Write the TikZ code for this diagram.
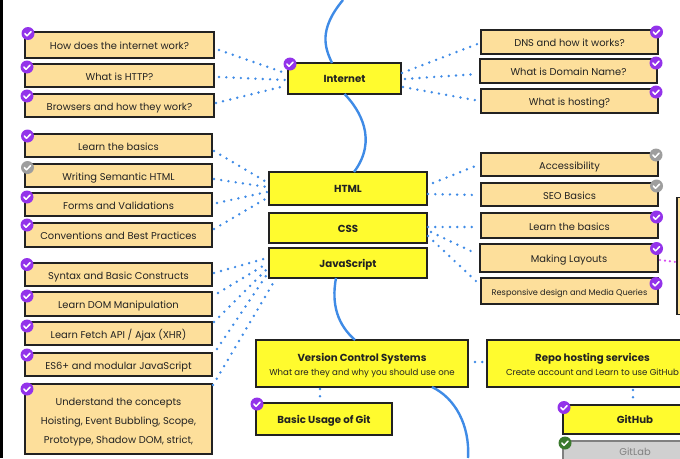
\documentclass[tikz,border=0pt]{standalone}
\usepackage{fontspec}
\setmainfont{Poppins}
\definecolor{itemfill}{HTML}{FDDF9B}
\definecolor{topicfill}{HTML}{FFFB2E}
\definecolor{altfill}{HTML}{D0D0D0}
\definecolor{linkblue}{HTML}{3F8BE6}
\definecolor{linkpink}{HTML}{D64BF0}
\definecolor{inkdark}{HTML}{222222}
\definecolor{donepurple}{HTML}{9333EA}
\definecolor{skipgrey}{HTML}{9E9E9E}
\definecolor{altgreen}{HTML}{3B7A2E}
\newcommand{\topictitle}[1]{{\fontsize{10.2}{15}\selectfont\bfseries #1}}
\begin{document}
\begin{tikzpicture}[x=1pt,y=-1pt]
        \tikzstyle{item}=[draw=inkdark,line width=1.3pt,fill=itemfill,text=inkdark,inner sep=0pt,outer sep=0pt,align=center,font=\fontsize{9.9}{19}\selectfont,execute at begin node={\rule[-3pt]{0pt}{15.5pt}}]
        \tikzstyle{topic}=[draw=inkdark,line width=1.3pt,fill=topicfill,text=inkdark,inner sep=0pt,outer sep=0pt,align=center,font=\fontsize{8.6}{15}\selectfont,execute at begin node={\rule[-3pt]{0pt}{14pt}}]
        \tikzstyle{alt}=[draw=gray,line width=1.3pt,fill=altfill,text=gray,inner sep=0pt,outer sep=0pt,font=\fontsize{9.9}{15}\selectfont]
        \tikzstyle{link}=[linkblue,line width=2.7pt,line cap=round,dash pattern=on 0pt off 7.3pt]
        \tikzstyle{pinklink}=[linkpink,line width=2.4pt,line cap=round,dash pattern=on 0pt off 5pt]
        \tikzstyle{road}=[linkblue,line width=2.4pt]
        \tikzset{badge/.style={circle,fill=#1,minimum size=13pt,inner sep=0pt,path picture={\draw[white,line width=1.5pt,line cap=round,line join=round] ([shift={(-3.2,0)}]path picture bounding box.center) -- ++(2.3,2.3) -- ++(4,-4.2);}}}

        \clip (0,0) rectangle (680,458);

        \coordinate (topend) at (343,0);
        \coordinate (bottomend) at (468,458);
        \node (frame)[fill=black,minimum width=3pt,minimum height=458pt,inner sep=0pt] at (1,229) {};

        % left column
        \node (how)[item,minimum width=189pt,minimum height=26pt] at (119.5,45) {How does the internet work?};
        \node (http)[item,minimum width=189pt,minimum height=23pt] at (119.5,75.5) {What is HTTP?};
        \node (browsers)[item,minimum width=189pt,minimum height=23pt] at (119.5,105.5) {Browsers and how they work?};
        \node (basics)[item,minimum width=187pt,minimum height=23pt] at (118.5,145.5) {Learn the basics};
        \node (semantic)[item,minimum width=187pt,minimum height=23pt] at (118.5,175.5) {Writing Semantic HTML};
        \node (forms)[item,minimum width=187pt,minimum height=23pt] at (118.5,204.5) {Forms and Validations};
        \node (conventions)[item,minimum width=187pt,minimum height=24pt] at (118.5,235) {Conventions and Best Practices};
        \node (syntax)[item,minimum width=187pt,minimum height=23pt] at (118.5,274.5) {Syntax and Basic Constructs};
        \node (dom)[item,minimum width=187pt,minimum height=24pt] at (118.5,304) {Learn DOM Manipulation};
        \node (fetch)[item,minimum width=187pt,minimum height=23pt] at (118.5,333.5) {Learn Fetch API / Ajax (XHR)};
        \node (esnext)[item,minimum width=187pt,minimum height=23pt] at (118.5,364.5) {ES6+ and modular JavaScript};
        \node (concepts)[item,minimum width=187pt,minimum height=70pt] at (118.5,419) {\rule{0pt}{13pt}Understand the concepts\\Hoisting, Event Bubbling, Scope,\\Prototype, Shadow DOM, strict,};

        % right column
        \node (dns)[item,minimum width=177pt,minimum height=24pt] at (569.5,42) {DNS and how it works?};
        \node (domain)[item,minimum width=177pt,minimum height=24pt] at (568.5,71) {What is Domain Name?};
        \node (hosting)[item,minimum width=177pt,minimum height=24pt] at (569.5,101) {What is hosting?};
        \node (access)[item,minimum width=177pt,minimum height=23pt] at (569.5,164.5) {Accessibility};
        \node (seo)[item,minimum width=177pt,minimum height=23pt] at (569.5,194.5) {SEO Basics};
        \node (cssbasics)[item,minimum width=177pt,minimum height=25pt] at (569.5,225.5) {Learn the basics};
        \node (layouts)[item,minimum width=178pt,minimum height=28pt] at (569,258) {Making Layouts};
        \node (responsive)[item,minimum width=177pt,minimum height=26pt,font=\fontsize{8.2}{15}\selectfont] at (569.5,291) {Responsive design and Media Queries};
        \node (side)[item,minimum width=43pt,minimum height=117pt] at (698.5,256) {};

        % main topics
        \node (internet)[topic,minimum width=113pt,minimum height=31pt] at (344.5,78.5) {\topictitle{Internet}};
        \node (html)[topic,minimum width=158pt,minimum height=33pt] at (348,188.5) {\topictitle{HTML}};
        \node (css)[topic,minimum width=158pt,minimum height=30pt] at (348,228) {\topictitle{CSS}};
        \node (js)[topic,minimum width=158pt,minimum height=30pt] at (348,263) {\topictitle{JavaScript}};
        \node (vcs)[topic,minimum width=212pt,minimum height=47pt] at (362,363.5) {\rule{0pt}{12pt}\topictitle{Version Control Systems}\\[-1pt]What are they and why you should use one};
        \node (git)[topic,minimum width=136pt,minimum height=32pt] at (324,419) {\topictitle{Basic Usage of Git}};
        \node (repo)[topic,minimum width=211pt,minimum height=47pt] at (592.5,363.5) {\rule{0pt}{12pt}\topictitle{Repo hosting services}\\[-1pt]Create account and Learn to use GitHub};
        \node (github)[topic,minimum width=144pt,minimum height=29pt] at (635,419.5) {\topictitle{GitHub}};
        \node[alt,minimum width=144pt,minimum height=39pt,anchor=north] (gitlab) at (635,441) {\raisebox{17pt}{GitLab}};

        % road
        \draw[road] (topend) .. controls (318,30) and (325,48) .. ([shift={(-12.5,0)}]internet.north);
        \draw[road] (internet.south) .. controls (360,110) and (378,140) .. ([shift={(6,0)}]html.north);
        \draw[road] ([shift={(-12,0)}]js.south) .. controls (331,305) and (338,325) .. ([shift={(-7,0)}]vcs.north);
        \draw[road] ([shift={(70,0)}]vcs.south) .. controls (455,398) and (470,425) .. (bottomend);

        % links
        \draw[link] ([shift={(5,5)}]how.east) -- ([shift={(-3,-5.5)}]internet.west);
        \draw[link] ([shift={(5,1.5)}]http.east) -- ([shift={(-3,1.5)}]internet.west);
        \draw[link] ([shift={(2,-2.5)}]browsers.east) -- ([shift={(-3,7.5)}]internet.west);
        \draw[link] ([shift={(2,5.5)}]basics.east) -- ([shift={(-1,-5.5)}]html.west);
        \draw[link] ([shift={(2,3.5)}]semantic.east) -- ([shift={(-2,-1.5)}]html.west);
        \draw[link] ([shift={(5,-1.5)}]forms.east) -- ([shift={(-2,3.5)}]html.west);
        \draw[link] ([shift={(2,-6)}]conventions.east) -- ([shift={(-2,9.5)}]html.west);
        \draw[link] ([shift={(2,-1.5)}]syntax.east) -- ([shift={(-2,-5)}]js.west);
        \draw[link] ([shift={(6,-11)}]dom.east) -- ([shift={(-1,0)}]js.west);
        \draw[link] ([shift={(2,-11.5)}]fetch.east) -- ([shift={(-1,5)}]js.west);
        \draw[link] ([shift={(5,-15.5)}]esnext.east) -- ([shift={(-1,10)}]js.west);
        \draw[link] ([shift={(1,-34)}]concepts.east) -- ([shift={(6,2)}]js.south west);
        \draw[link] ([shift={(1,-5.5)}]internet.east) -- ([shift={(-1,1)}]dns.west);
        \draw[link] ([shift={(4,0.5)}]internet.east) -- ([shift={(-3,3)}]domain.west);
        \draw[link] ([shift={(2,8.5)}]internet.east) -- ([shift={(-1,0)}]hosting.west);
        \draw[link] ([shift={(6,-5.5)}]html.east) -- ([shift={(-3,0.5)}]access.west);
        \draw[link] ([shift={(1,5.5)}]html.east) -- ([shift={(-5,0.5)}]seo.west);
        \draw[link] ([shift={(1,-1)}]css.east) -- ([shift={(-4,1.5)}]cssbasics.west);
        \draw[link] ([shift={(4,4)}]css.east) -- ([shift={(-3,-4)}]layouts.west);
        \draw[link] ([shift={(1,8)}]css.east) -- ([shift={(-3,-8)}]responsive.west);
        \draw[link] ([shift={(7,-1.5)}]vcs.east) -- ([shift={(-3,-1.5)}]repo.west);
        \draw[link] ([shift={(-42,2)}]vcs.south) -- ([shift={(-4,-5)}]git.north);
        \draw[link] ([shift={(40.5,3)}]repo.south) -- ([shift={(-2,-5)}]github.north);
        \draw[pinklink] ([shift={(2,2)}]layouts.east) -- ([shift={(-1,6)}]side.west);

        % badges
        \node (howbadge)[badge=donepurple] at (28,33.5) {};
        \node (httpbadge)[badge=donepurple] at (27,67) {};
        \node (browsersbadge)[badge=donepurple] at (27,96) {};
        \node (basicsbadge)[badge=donepurple] at (27.5,136) {};
        \node (semanticbadge)[badge=skipgrey] at (27.5,167.5) {};
        \node (formsbadge)[badge=donepurple] at (27,197) {};
        \node (conventionsbadge)[badge=donepurple] at (27,225) {};
        \node (syntaxbadge)[badge=donepurple] at (27,264.5) {};
        \node (dombadge)[badge=donepurple] at (27,296) {};
        \node (fetchbadge)[badge=donepurple] at (27,326) {};
        \node (esnextbadge)[badge=donepurple] at (27,355) {};
        \node (conceptsbadge)[badge=donepurple] at (27,389) {};
        \node (internetbadge)[badge=donepurple] at (290,64) {};
        \node (dnsbadge)[badge=donepurple] at (656.5,32) {};
        \node (domainbadge)[badge=donepurple] at (656,63) {};
        \node (hostingbadge)[badge=donepurple] at (656,92) {};
        \node (accessbadge)[badge=skipgrey] at (656,155) {};
        \node (seobadge)[badge=skipgrey] at (656.5,186) {};
        \node (cssbasicsbadge)[badge=donepurple] at (656.5,217) {};
        \node (layoutsbadge)[badge=donepurple] at (656.5,248.5) {};
        \node (responsivebadge)[badge=donepurple] at (656,283.5) {};
        \node (gitbadge)[badge=donepurple] at (257,404) {};
        \node (githubbadge)[badge=donepurple] at (564,407.5) {};
        \node (gitlabbadge)[badge=altgreen] at (565,443) {};
\end{tikzpicture}
\end{document}
